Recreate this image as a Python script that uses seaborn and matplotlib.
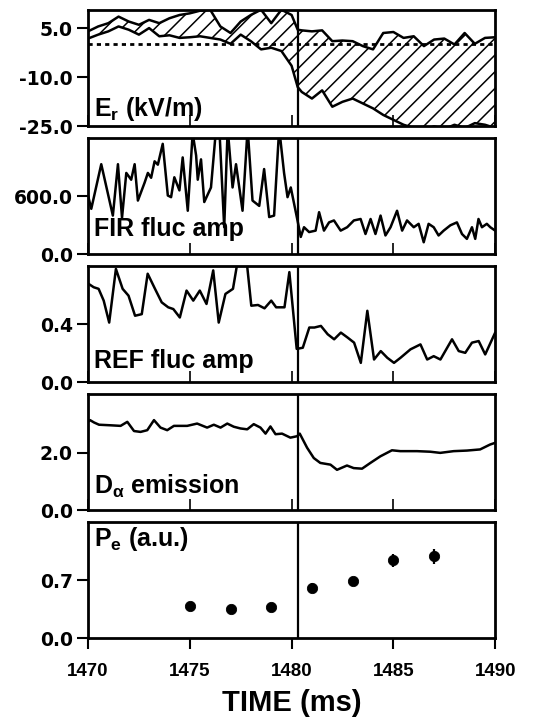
import matplotlib
matplotlib.use("Agg")
import matplotlib.pyplot as plt
import seaborn as sns

# E_r shaded band (kV/m): upper and lower envelope
er_time = [1470.0, 1470.5, 1471.0, 1471.5, 1472.0, 1472.5, 1473.0, 1473.5, 1474.0, 1474.5,
           1475.0, 1475.5, 1476.0, 1476.5, 1477.0, 1477.5, 1478.0, 1478.5, 1479.0, 1479.5,
           1480.0, 1480.3, 1480.5, 1481.0, 1481.5, 1482.0, 1482.5, 1483.0, 1483.5, 1484.0,
           1484.5, 1485.0, 1485.5, 1486.0, 1486.5, 1487.0, 1487.5, 1488.0, 1488.5, 1489.0,
           1489.5, 1490.0]
er_upper = [4.0, 5.5, 6.5, 8.5, 7.0, 6.0, 7.5, 6.5, 8.0, 9.0,
            9.5, 10.3, 10.6, 5.5, 3.5, 7.0, 9.0, 10.6, 6.5, 10.6,
            9.0, 4.5, 4.3, 4.0, 4.3, 1.0, 1.2, 1.0, -0.5, -1.5,
            3.5, 3.8, 2.0, 2.5, -0.5, 1.5, 1.8, 0.0, 3.5, 0.2,
            2.0, 2.2]
er_lower = [1.8, 3.0, 4.0, 5.5, 4.5, 3.0, 5.0, 2.5, 2.8, 2.0,
            2.2, 2.5, 2.0, 1.5, 0.2, 3.0, 1.0, -1.5, -1.0, -2.0,
            -6.5, -13.0, -14.5, -16.5, -14.0, -19.0, -17.5, -16.5, -18.0, -19.5,
            -21.5, -23.0, -24.5, -25.5, -26.0, -25.0, -25.8, -24.5, -25.5, -24.0,
            -24.5, -25.5]

# FIR fluctuation amplitude
fir_time = [1470.00, 1470.16, 1470.65, 1471.22, 1471.47, 1471.67, 1471.88, 1472.12, 1472.29, 1472.45,
            1472.78, 1472.94, 1473.10, 1473.27, 1473.43, 1473.67, 1473.92, 1474.08, 1474.24, 1474.49,
            1474.65, 1474.90, 1475.14, 1475.31, 1475.39, 1475.55, 1475.71, 1476.04, 1476.29, 1476.45,
            1476.69, 1476.86, 1477.10, 1477.27, 1477.59, 1477.84, 1478.08, 1478.41, 1478.65, 1478.90,
            1479.14, 1479.39, 1479.63, 1479.80, 1479.96, 1480.29,
            1480.45, 1480.61, 1480.86, 1481.18, 1481.35, 1481.59, 1481.84, 1482.08, 1482.41, 1482.73,
            1483.06, 1483.39, 1483.63, 1483.88, 1484.12, 1484.37, 1484.61, 1484.86, 1485.18, 1485.43,
            1485.67, 1486.00, 1486.24, 1486.49, 1486.73, 1486.98, 1487.22, 1487.47, 1487.80, 1488.12,
            1488.37, 1488.61, 1488.86, 1489.02, 1489.18, 1489.35, 1489.59, 1489.76, 1490.00]
fir_amp = [607, 470, 930, 400, 930, 377, 840, 770, 930, 555,
           740, 840, 790, 960, 925, 1140, 607, 590, 795, 660,
           1000, 450, 1250, 1020, 770, 980, 540, 690, 1300, 1300,
           280, 1300, 690, 930, 450, 1300, 555, 500, 880, 385,
           400, 1300, 840, 590, 690, 350,
           180, 280, 230, 245, 435, 245, 330, 350, 245, 280,
           350, 365, 210, 365, 210, 400, 195, 280, 450, 245,
           350, 280, 315, 125, 315, 280, 195, 245, 300, 330,
           210, 160, 280, 160, 365, 280, 315, 280, 245]

# reflectometer fluctuation amplitude
ref_time = [1470.03, 1470.28, 1470.52, 1470.77, 1471.04, 1471.37, 1471.70, 1471.99, 1472.31, 1472.64,
            1472.93, 1473.29, 1473.62, 1473.94, 1474.19, 1474.51, 1474.84, 1475.17, 1475.49, 1475.82,
            1476.15, 1476.42, 1476.75, 1477.12, 1477.37, 1477.78, 1478.02, 1478.35, 1478.67, 1479.00,
            1479.24, 1479.65, 1479.89, 1480.25,
            1480.55, 1480.87, 1481.12, 1481.44, 1481.77, 1482.09, 1482.42, 1482.75, 1483.07, 1483.40,
            1483.72, 1484.05, 1484.38, 1484.70, 1485.03, 1485.35, 1485.84, 1486.33, 1486.66, 1486.98,
            1487.31, 1487.88, 1488.21, 1488.53, 1488.86, 1489.19, 1489.51, 1490.00]
ref_amp = [0.677, 0.654, 0.643, 0.562, 0.411, 0.780, 0.643, 0.596, 0.458, 0.469,
           0.747, 0.643, 0.550, 0.516, 0.504, 0.446, 0.631, 0.562, 0.631, 0.539,
           0.770, 0.411, 0.608, 0.643, 0.850, 0.850, 0.527, 0.532, 0.509, 0.562,
           0.516, 0.516, 0.758, 0.230,
           0.238, 0.377, 0.377, 0.388, 0.331, 0.296, 0.342, 0.308, 0.273, 0.134,
           0.492, 0.157, 0.215, 0.169, 0.134, 0.169, 0.227, 0.261, 0.157, 0.180,
           0.157, 0.296, 0.215, 0.203, 0.273, 0.284, 0.192, 0.342]

# D-alpha emission
da_time = [1470.00, 1470.10, 1470.29, 1470.54, 1471.11, 1471.60, 1471.93, 1472.26, 1472.58, 1472.91,
           1473.24, 1473.56, 1473.89, 1474.22, 1474.87, 1475.36, 1475.85, 1476.18, 1476.51, 1476.84,
           1477.16, 1477.49, 1477.82, 1478.14, 1478.47, 1478.72, 1478.96, 1479.21, 1479.53, 1479.94,
           1480.27, 1480.40, 1480.76, 1481.09, 1481.41, 1481.91, 1482.23, 1482.72, 1483.05, 1483.46,
           1483.87, 1484.36, 1484.93, 1485.34, 1486.16, 1486.81, 1487.30, 1487.96, 1488.61, 1489.26,
           1489.75, 1490.00]
da_emission = [3.08, 3.14, 3.06, 2.98, 2.96, 2.94, 3.08, 2.76, 2.73, 2.79,
               3.14, 2.88, 2.79, 2.94, 2.94, 3.02, 2.88, 2.98, 2.88, 3.02,
               2.91, 2.85, 2.82, 3.00, 2.88, 2.67, 2.92, 2.65, 2.67, 2.53,
               2.58, 2.67, 2.18, 1.82, 1.65, 1.59, 1.41, 1.56, 1.47, 1.45,
               1.65, 1.88, 2.09, 2.06, 2.06, 2.04, 2.00, 2.06, 2.08, 2.12,
               2.29, 2.35]

# electron pressure (a.u.)
pe_time = [1475, 1477, 1479, 1481, 1483, 1485, 1487]
pe_value = [0.39, 0.35, 0.38, 0.61, 0.69, 0.94, 0.99]
pe_err = [0.0, 0.0, 0.0, 0.05, 0.05, 0.08, 0.09]

transition = 1480.3

sns.set_style("ticks")
plt.rcParams["font.family"] = ["Liberation Sans", "DejaVu Sans"]
plt.rcParams["font.weight"] = "bold"
plt.rcParams["text.color"] = "black"
plt.rcParams["axes.labelcolor"] = "black"
plt.rcParams["xtick.color"] = "black"
plt.rcParams["ytick.color"] = "black"
plt.rcParams["axes.edgecolor"] = "black"
plt.rcParams["axes.unicode_minus"] = False
plt.rcParams["mathtext.fontset"] = "custom"
plt.rcParams["mathtext.bf"] = "Liberation Sans:bold"
plt.rcParams["mathtext.rm"] = "Liberation Sans:bold"
plt.rcParams["mathtext.default"] = "bf"
plt.rcParams["axes.linewidth"] = 2
plt.rcParams["hatch.linewidth"] = 1.1

fig, axes = plt.subplots(5, 1, figsize=(5.4, 7.18), dpi=100, sharex=True)
fig.subplots_adjust(left=0.163, right=0.917, top=0.986, bottom=0.111, hspace=0.1)
ax1, ax2, ax3, ax4, ax5 = axes

# panel 1: E_r band
ax1.fill_between(er_time, er_lower, er_upper, facecolor="none", edgecolor="black",
                 hatch="//", linewidth=0)
sns.lineplot(x=er_time, y=er_upper, ax=ax1, color="black", lw=1.8, estimator=None)
sns.lineplot(x=er_time, y=er_lower, ax=ax1, color="black", lw=1.8, estimator=None)
ax1.axhline(0, color="black", lw=2, ls=(0, (1.5, 1.5)))
ax1.set_ylim(-25, 10.5)

sns.lineplot(x=fir_time, y=fir_amp, ax=ax2, color="black", lw=1.8, estimator=None)
ax2.set_ylim(0, 1200)

sns.lineplot(x=ref_time, y=ref_amp, ax=ax3, color="black", lw=1.8, estimator=None)
ax3.set_ylim(0, 0.8)

sns.lineplot(x=da_time, y=da_emission, ax=ax4, color="black", lw=1.8, estimator=None)
ax4.set_ylim(0, 4.05)

ax5.errorbar(pe_time, pe_value, yerr=pe_err, fmt="none", ecolor="black", elinewidth=1.6)
sns.scatterplot(x=pe_time, y=pe_value, ax=ax5, color="black", s=55, edgecolor="black", zorder=3)
ax5.set_ylim(0, 1.4)

yticks = [[-25, -10, 5], [0, 600], [0, 0.4], [0, 2], [0, 0.7]]
labels = [r"E$_{r}$ (kV/m)", "FIR fluc amp", "REF fluc amp", r"D$_{\alpha}$ emission", r"P$_{e}$ (a.u.)"]
label_y = [0.09, 0.155, 0.12, 0.14, 0.79]

for ax, ticks, lab, ly in zip(axes, yticks, labels, label_y):
    ax.axvline(transition, color="black", lw=1.6)
    ax.set_xlim(1470, 1490)
    ax.set_yticks(ticks, labels=[f"{t:.1f}" for t in ticks], fontfamily="DejaVu Sans",
                  fontweight="bold", fontsize=13.5)
    ax.tick_params(axis="y", direction="out", length=8, width=1.5, pad=3)
    ax.text(0.014, ly, lab, transform=ax.transAxes, fontsize=18, fontweight="bold",
            va="baseline", ha="left", color="black")
    ax.set_ylabel("")
    for s in ax.spines.values():
        s.set_visible(True)
        s.set_color("black")

for ax in axes[:-1]:
    ax.tick_params(axis="x", direction="in", length=8, width=1.2, labelbottom=False)

ax5.set_xticks([1470, 1475, 1480, 1485, 1490],
               labels=["1470", "1475", "1480", "1485", "1490"],
               fontsize=13.5, fontweight="bold")
ax5.tick_params(axis="x", direction="out", length=8, width=1.5, pad=10)
ax5.set_xlabel("TIME (ms)", fontsize=21, fontweight="bold", labelpad=6)

fig.savefig("out.png", dpi=100)
